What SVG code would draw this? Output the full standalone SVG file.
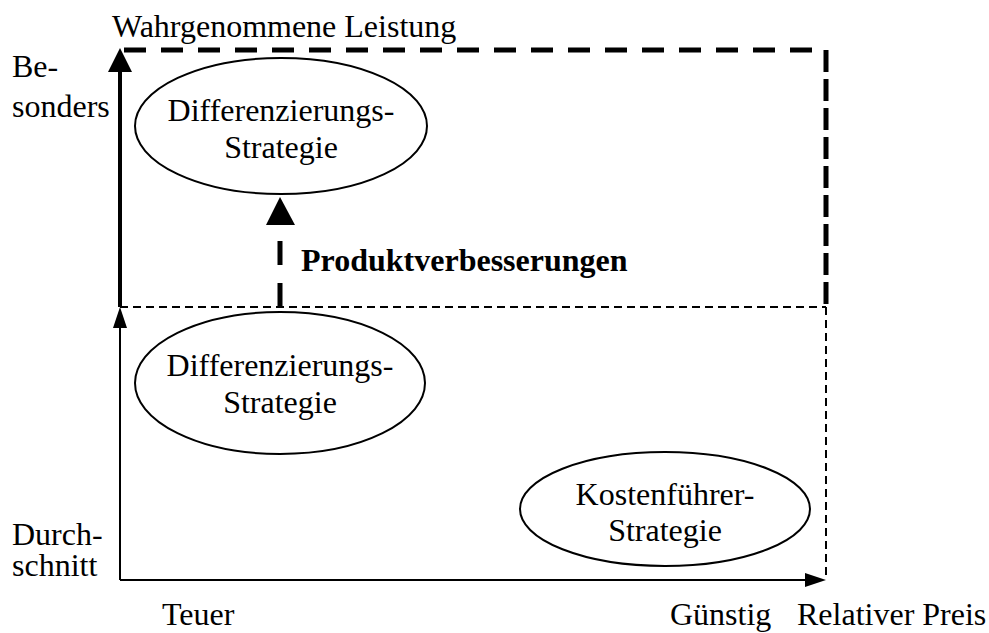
<svg xmlns="http://www.w3.org/2000/svg" width="989" height="633" viewBox="0 0 989 633">
<style>
text{font-family:"Liberation Serif","Times New Roman",serif;font-size:32px;fill:#000}
.b{font-weight:bold}
.m{text-anchor:middle}
ellipse{fill:none;stroke:#000;stroke-width:2}
</style>
<rect width="989" height="633" fill="#fff"/>
<g id="connectors" fill="none" stroke="#000">
<path d="M120 580V326" stroke-width="2"/>
<polygon points="120,307 113,328 127,328" fill="#000" stroke="none"/>
<path d="M120 580H807" stroke-width="2"/>
<polygon points="826,580 805,573 805,587" fill="#000" stroke="none"/>
<path d="M120 307V70" stroke-width="4"/>
<polygon points="120,48 108,72 132,72" fill="#000" stroke="none"/>
<path d="M124 50H826" stroke-width="5" stroke-dasharray="22 15"/>
<path d="M826 50V307" stroke-width="5" stroke-dasharray="22 7"/>
<path d="M120 307H826" stroke-width="2" stroke-dasharray="8 5"/>
<path d="M826 307V580" stroke-width="2" stroke-dasharray="8 5"/>
<path d="M280 307V226" stroke-width="5" stroke-dasharray="24 18"/>
<polygon points="280,197 266,225 295,225" fill="#000" stroke="none"/>
</g>
<g id="node-diff-top">
<ellipse cx="281" cy="126" rx="146" ry="68"/>
<text class="m" x="281" y="121">Differenzierungs-</text>
<text class="m" x="281" y="158">Strategie</text>
</g>
<g id="node-diff-bottom">
<ellipse cx="280" cy="383" rx="145" ry="71"/>
<text class="m" x="280" y="376">Differenzierungs-</text>
<text class="m" x="280" y="413">Strategie</text>
</g>
<g id="node-kosten">
<ellipse cx="665" cy="509" rx="145" ry="57"/>
<text class="m" x="665" y="505">Kostenführer-</text>
<text class="m" x="665" y="541">Strategie</text>
</g>
<g id="labels">
<text x="112" y="37">Wahrgenommene Leistung</text>
<text x="12" y="77">Be-</text>
<text x="12" y="117">sonders</text>
<text x="12" y="545">Durch-</text>
<text x="12" y="576">schnitt</text>
<text x="162" y="625">Teuer</text>
<text x="670" y="625">Günstig</text>
<text x="797" y="625">Relativer Preis</text>
<text class="b" x="301" y="271">Produktverbesserungen</text>
</g>
</svg>
